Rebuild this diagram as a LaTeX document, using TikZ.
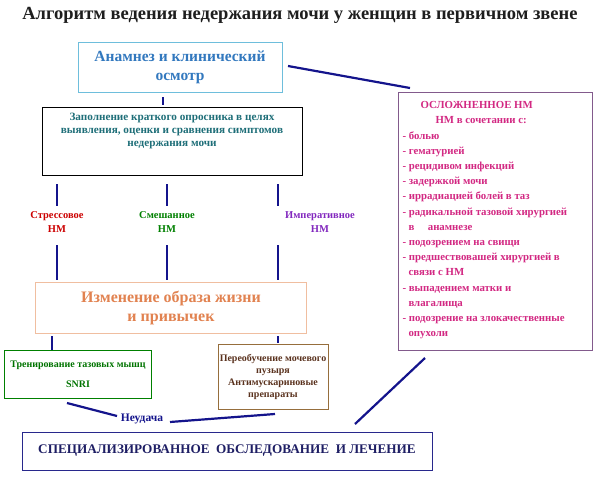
\documentclass[tikz,border=0pt]{standalone}
\usepackage{fontspec}
\setmainfont{Liberation Serif}
\begin{document}
\begin{tikzpicture}[x=1pt,y=-1pt,
  conn/.style={line width=2.2pt,draw={rgb,255:red,20;green,20;blue,140}},
  bx/.style={draw,line width=1pt,inner sep=0pt},
  every node/.style={font=\bfseries}]
\useasboundingbox (0,0) rectangle (600,477);
\definecolor{ttl}{RGB}{30,30,30}
\node[font=\bfseries\fontsize{18.5}{20}\selectfont,text=ttl] (title) at (300,15) {Алгоритм ведения недержания мочи у женщин в первичном звене};
\node[bx,draw={rgb,255:red,110;green,190;blue,220},minimum width=204,minimum height=50,align=center,text={rgb,255:red,50;green,120;blue,190},font=\bfseries\fontsize{15.5}{19}\selectfont] (an) at (180,67) {Анамнез и клинический\\осмотр};
\node[bx,draw=black,minimum width=260,minimum height=68,anchor=north] (q) at (172,107) {};
\node[align=center,anchor=north,text={rgb,255:red,30;green,110;blue,120},font=\bfseries\fontsize{11.2}{13}\selectfont] (qt) at (172,110) {Заполнение краткого опросника в целях\\выявления, оценки и сравнения симптомов\\недержания мочи};
\node[align=center,text=red!80!black,font=\bfseries\fontsize{10.5}{14}\selectfont] (s) at (57,222) {Стрессовое\\НМ};
\node[align=center,text=green!50!black,font=\bfseries\fontsize{10.5}{14}\selectfont] (m) at (167,222) {Смешанное\\НМ};
\node[align=center,text={rgb,255:red,130;green,40;blue,190},font=\bfseries\fontsize{10.5}{14}\selectfont] (i) at (320,222) {Императивное\\НМ};
\node[bx,draw={rgb,255:red,240;green,190;blue,160},minimum width=271,minimum height=51,align=center,text={rgb,255:red,225;green,130;blue,80},font=\bfseries\fontsize{16}{19}\selectfont] (life) at (171,308) {Изменение образа жизни\\и привычек};
\node[bx,draw=green!50!black,minimum width=147,minimum height=48,align=center,text=green!45!black,font=\bfseries\fontsize{10}{11}\selectfont] (tr) at (78,374) {Тренирование тазовых мышц\\[9pt]SNRI};
\node[bx,draw={rgb,255:red,150;green,110;blue,60},minimum width=110,minimum height=65,align=center,text={rgb,255:red,90;green,50;blue,30},font=\bfseries\fontsize{10}{12}\selectfont] (re) at (273,377) {Переобучение мочевого\\пузыря\\Антимускариновые\\препараты};
\node[text={rgb,255:red,20;green,20;blue,140},font=\bfseries\fontsize{11.5}{13}\selectfont] (fail) at (142,419) {Неудача};
\node[bx,draw={rgb,255:red,40;green,40;blue,140},minimum width=410,minimum height=38,text={rgb,255:red,30;green,30;blue,100},font=\bfseries\fontsize{13.2}{16}\selectfont] (sp) at (227,451) {СПЕЦИАЛИЗИРОВАННОЕ \ ОБСЛЕДОВАНИЕ \ И ЛЕЧЕНИЕ};
\node[bx,draw={rgb,255:red,130;green,90;blue,140},minimum width=194,minimum height=258,anchor=north west] (cx) at (398,92) {};
\node[anchor=north west,align=left,text={rgb,255:red,210;green,40;blue,130},font=\bfseries\fontsize{10.8}{15.2}\selectfont] (cxt) at (399,98) {\hspace*{18pt}ОСЛОЖНЕННОЕ НМ\\\hspace*{33pt}НМ в сочетании с:\\- болью\\- гематурией\\- рецидивом инфекций\\- задержкой мочи\\- иррадиацией болей в таз\\- радикальной тазовой хирургией\\\hspace*{6pt}в \quad анамнезе\\- подозрением на свищи\\- предшествовашей хирургией в\\\hspace*{6pt}связи с НМ\\- выпадением матки и\\\hspace*{6pt}влагалища\\- подозрение на злокачественные\\\hspace*{6pt}опухоли};
\coordinate (a1) at (288,66); \coordinate (a2) at (410,88);
\draw[conn] (a1) -- (a2);
\coordinate (qa) at (163,97); \coordinate (qb) at (163,105);
\draw[conn] (qa) -- (qb);
\foreach \x/\n in {57/s,167/m,278/i}{
  \draw[conn] (\x,184) -- (\x,206);
  \draw[conn] (\x,245) -- (\x,280);
}
\draw[conn] (52,336) -- (52,350);
\draw[conn] (278,336) -- (278,343);
\coordinate (f1) at (67,403); \coordinate (f2) at (117,416);
\draw[conn] (f1) -- (f2);
\coordinate (f3) at (170,422); \coordinate (f4) at (275,414);
\draw[conn] (f3) -- (f4);
\coordinate (c1) at (425,358); \coordinate (c2) at (355,424);
\draw[conn] (c1) -- (c2);
\end{tikzpicture}
\end{document}
